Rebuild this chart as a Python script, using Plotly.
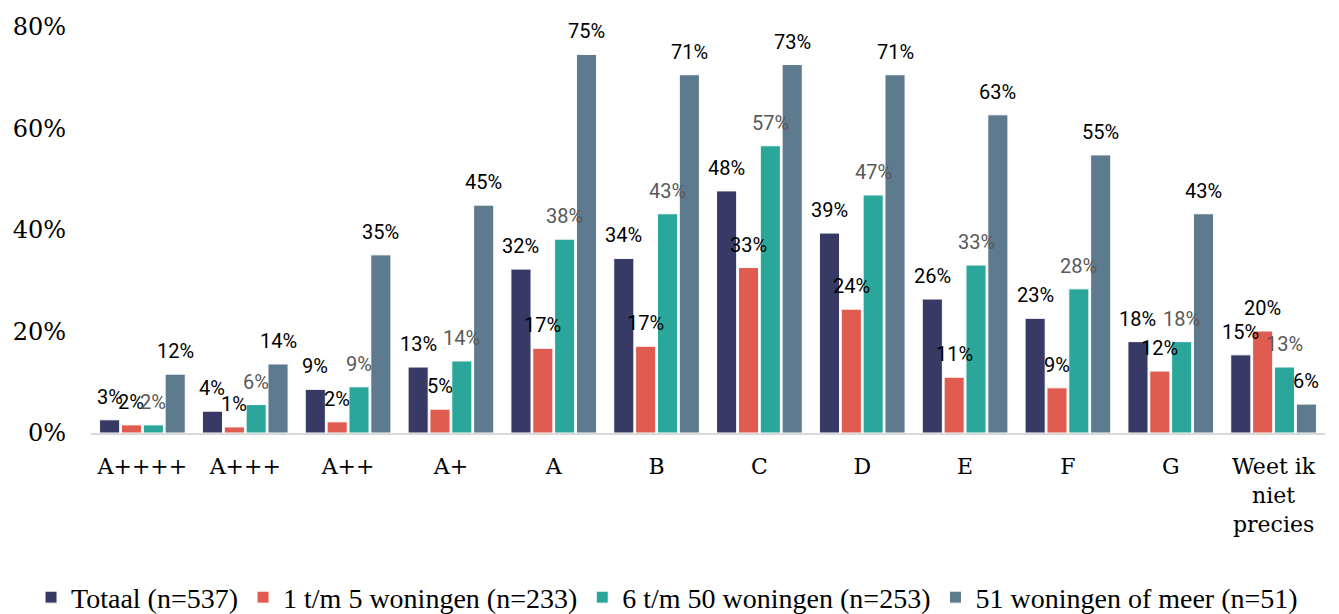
import plotly.graph_objects as go

categories = ["A++++", "A+++", "A++", "A+", "A", "B", "C", "D", "E", "F", "G", "Weet ik<br>niet<br>precies"]
series_names = ["Totaal (n=537)", "1 t/m 5 woningen (n=233)", "6 t/m 50 woningen (n=253)", "51 woningen of meer (n=51)"]
totaal = [2.6, 4.3, 8.6, 13.0, 32.3, 34.4, 47.7, 39.4, 26.4, 22.6, 18.0, 15.4]
klein = [1.6, 1.2, 2.2, 4.7, 16.7, 17.1, 32.6, 24.4, 11.0, 8.9, 12.2, 20.1]
middel = [1.6, 5.6, 9.1, 14.2, 38.2, 43.2, 56.6, 46.9, 33.1, 28.4, 18.0, 13.0]
groot = [11.6, 13.6, 35.1, 44.9, 74.6, 70.6, 72.6, 70.6, 62.7, 54.8, 43.2, 5.7]

series = [totaal, klein, middel, groot]
colors = ["#373A64", "#E05B50", "#2AA79A", "#5E7A8E"]
label_colors = ["#000000", "#000000", "#595959", "#000000"]

W, H = 1339, 614
ML, MR, MT, MB = 83, 22, 19, 189
BARGAP = 0.15

fig = go.Figure()
for name, vals, col in zip(series_names, series, colors):
    fig.add_trace(go.Bar(
        x=categories, y=vals, name=name,
        marker=dict(color=col, line=dict(color="#ffffff", width=1)),
        hoverinfo="skip",
    ))

plot_w = W - ML - MR
plot_h = H - MT - MB
cat_w = plot_w / len(categories)
slot = cat_w * (1 - BARGAP) / len(series)
annotations = []
for i, (vals, lc) in enumerate(zip(series, label_colors)):
    for c, v in zip(categories, vals):
        annotations.append(dict(
            x=c, y=v, xref="x", yref="y", text=f"{round(v):d}%",
            showarrow=False, xanchor="center", yanchor="bottom",
            xshift=(i - 1.5) * slot, yshift=9,
            font=dict(family="Roboto", size=20, color=lc),
        ))

fig.update_layout(
    width=W, height=H,
    margin=dict(l=ML, r=MR, t=MT, b=MB, autoexpand=False),
    plot_bgcolor="white", paper_bgcolor="white",
    barmode="group", bargap=BARGAP, bargroupgap=0.08,
    annotations=annotations,
    showlegend=True,
    legend=dict(orientation="h", x=-0.0486, xanchor="left",
                y=-0.405, yanchor="middle",
                font=dict(family="Liberation Serif", size=28, color="#000000"),
                itemwidth=30, traceorder="normal"),
    xaxis=dict(showline=True, linecolor="#D9D9D9", linewidth=2, ticks="",
               ticklabelstandoff=13,
               tickfont=dict(family="DejaVu Serif", size=22, color="#000000"),
               showgrid=False),
    yaxis=dict(range=[0, 80], dtick=20, ticksuffix="%", showgrid=False, zeroline=False,
               showline=False, ticklabelstandoff=24,
               tickfont=dict(family="DejaVu Serif", size=24, color="#000000")),
)

fig.write_html("out.html")
